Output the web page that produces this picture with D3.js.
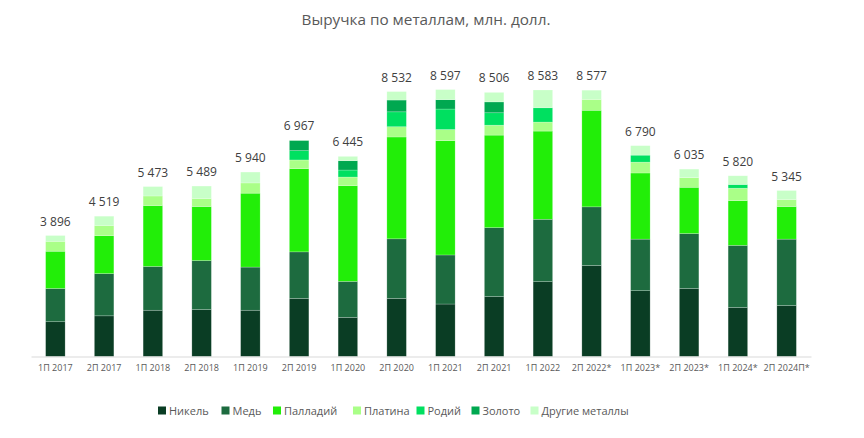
<!DOCTYPE html>
<html><head><meta charset="utf-8">
<script src="https://cdn.jsdelivr.net/npm/d3@7"></script>
<style>body{margin:0;background:#fff;} svg{display:block;}</style>
</head><body>
<svg id="chart" width="864" height="438"></svg>
<script>
const categories = ["1П 2017","2П 2017","1П 2018","2П 2018","1П 2019","2П 2019","1П 2020","2П 2020","1П 2021","2П 2021","1П 2022","2П 2022*","1П 2023*","2П 2023*","1П 2024*","2П 2024П*"];
const totals = [3896,4519,5473,5489,5940,6967,6445,8532,8597,8506,8583,8577,6790,6035,5820,5345];
const seriesNames = ["Никель","Медь","Палладий","Платина","Родий","Золото","Другие металлы"];
const nickel    = [1120,1310,1490,1510,1490,1870,1260,1870,1690,1930,2410,2930,2120,2190,1580,1640];
const copper    = [1070,1360,1410,1580,1390,1500,1160,1920,1580,2220,2010,1890,1660,1770,2000,2140];
const palladium = [1200,1220,1960,1740,2380,2680,3080,3280,3680,2980,2840,3110,2130,1490,1440,1050];
const platinum  = [320,330,310,260,330,280,280,330,360,320,290,350,350,310,400,225];
const rhodium   = [0,0,0,0,0,300,225,480,660,400,460,0,225,0,120,0];
const gold      = [0,0,0,0,0,330,300,380,300,350,0,0,0,0,0,0];
const other     = [186,299,303,399,350,7,140,272,327,306,573,297,305,275,280,290];
const colors = ["#0a3d24","#1d6b3f","#22ee08","#aaff88","#00e060","#00a850","#c8ffc8"];

const seriesData = [nickel,copper,palladium,platinum,rhodium,gold,other];
const rows = categories.map((c,i)=>{
  const r = {cat:c};
  seriesNames.forEach((n,j)=> r[n]=seriesData[j][i]);
  return r;
});

const svg = d3.select("#chart");
const font = "'Open Sans', 'Liberation Sans', sans-serif";
const x = d3.scaleBand().domain(categories).range([31,811]).paddingInner(0.6).paddingOuter(0.3);
const y = d3.scaleLinear().domain([0,10000]).range([356.5,356.5-310.5]);

const stack = d3.stack().keys(seriesNames)(rows);

svg.append("text").attr("x",426).attr("y",25).attr("text-anchor","middle")
  .attr("font-family",font).attr("font-size",15.3).attr("fill","#595959")
  .text("Выручка по металлам, млн. долл.");

const g = svg.append("g");
stack.forEach((s,j)=>{
  g.selectAll(null).data(s).enter().append("rect")
    .attr("x",d=>x(d.data.cat))
    .attr("width",x.bandwidth())
    .attr("y",d=>y(d[1]))
    .attr("height",d=>Math.max(0,y(d[0])-y(d[1])))
    .attr("fill",colors[j])
    .attr("stroke","#ffffff").attr("stroke-opacity",0.35).attr("stroke-width",0.6);
});

// axis
const ax = svg.append("g").attr("transform","translate(0,356.5)")
  .call(d3.axisBottom(x).tickSize(0).tickPadding(8));
ax.select(".domain").attr("stroke","#d9d9d9").attr("stroke-width",1);
ax.selectAll("text").attr("font-family",font).attr("font-size",9).attr("fill","#595959");

// totals labels
svg.selectAll(".tot").data(categories).enter().append("text")
  .attr("x",d=>x(d)+x.bandwidth()/2)
  .attr("y",(d,i)=>y(d3.sum(seriesData,s=>s[i]))-10)
  .attr("text-anchor","middle").attr("font-family",font).attr("font-size",12)
  .attr("fill","#404040")
  .text((d,i)=>d3.format(",")(totals[i]).replace(/,/g," "));

// legend
const legendX = [158,221.5,273,353,416.5,471.5,530.5];
const lg = svg.append("g");
seriesNames.forEach((n,j)=>{
  lg.append("rect").attr("x",legendX[j]).attr("y",406.5).attr("width",8).attr("height",8).attr("fill",colors[j]);
  lg.append("text").attr("x",legendX[j]+11).attr("y",414.5).attr("font-family",font).attr("font-size",11)
    .attr("fill","#595959").text(n);
});
</script>
</body></html>
